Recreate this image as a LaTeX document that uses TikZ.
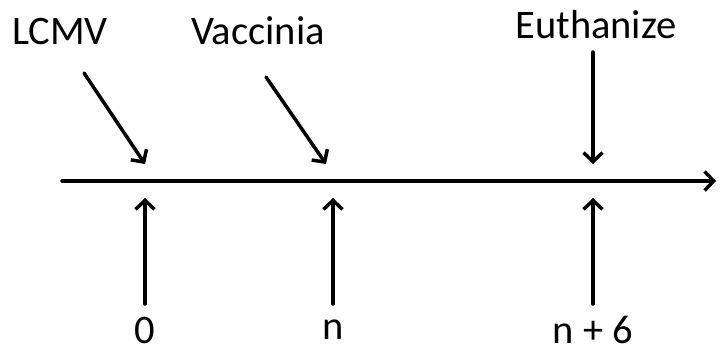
\documentclass[tikz,border=0pt]{standalone}
\usepackage{fontspec}
\setmainfont{Carlito}
\usetikzlibrary{arrows.meta}
\begin{document}
\begin{tikzpicture}[x=1pt,y=-1pt,>={Straight Barb[length=9pt,width=19pt]},line width=3.5pt, line join=round, line cap=round,
	lbl/.style={font=\fontsize{40.5}{48}\selectfont,inner sep=0pt}]
				\useasboundingbox (0,0) rectangle (720,354);
				\path
				(62,181) coordinate (T0)
				(716,181) coordinate (T1)
				(84,73) coordinate (L0)
				(145,164) coordinate (L1)
				(266,77) coordinate (V0)
				(326,164) coordinate (V1)
				(593,52) coordinate (E0)
				(593,164) coordinate (E1)
				;
				\node[lbl] (lcmv) at (60,31) {LCMV};
				\node[lbl] (vacc) at (258,31) {Vaccinia};
				\node[lbl] (euth) at (596,25) {Euthanize};
				\draw[->] (T0)--(T1);
				\draw[->] (L0)--(L1);
				\draw[->] (V0)--(V1);
				\draw[->] (E0)--(E1);
				\foreach \p/\x/\t in{d0/145/0,dn/333/n,dn6/593/n + 6}{
					\node[lbl] (\p) at (\x,330) {\t};
					\coordinate (\p b) at (\x,304);
					\coordinate (\p t) at (\x,198);
					\draw[->] (\p b)--(\p t);
				}
			\end{tikzpicture}
\end{document}
